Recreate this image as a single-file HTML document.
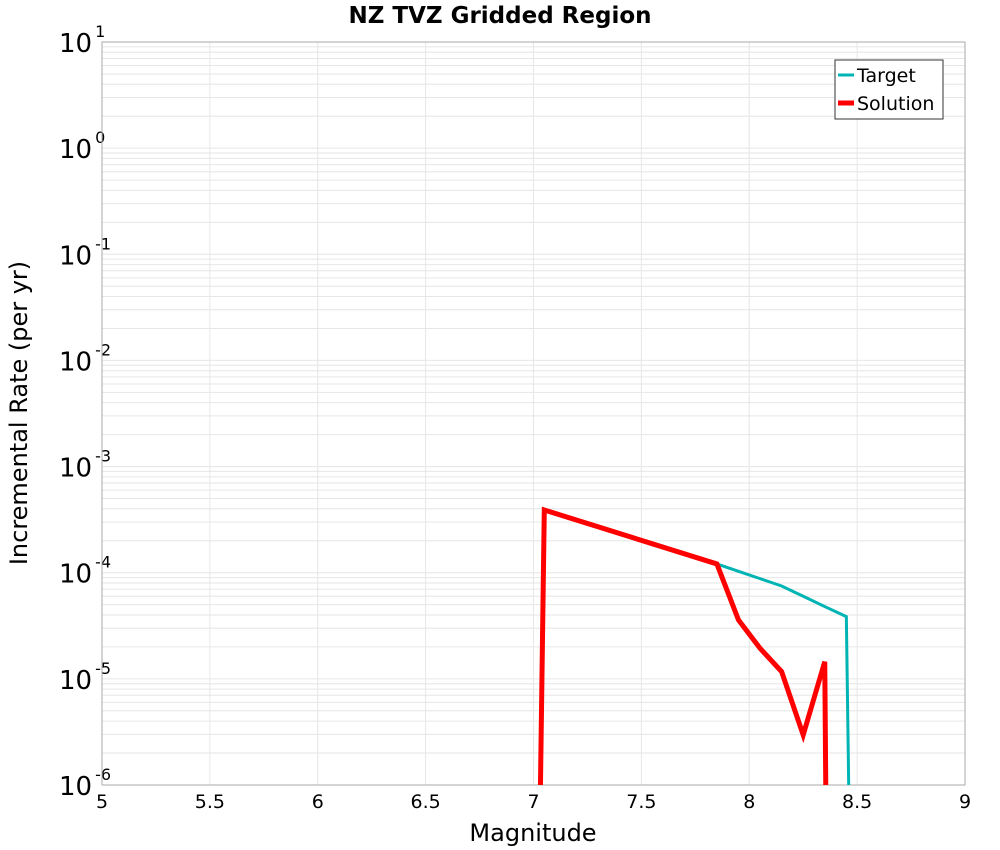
<!DOCTYPE html>
<html><head><meta charset="utf-8"><style>
html,body{margin:0;padding:0;background:#fff;overflow:hidden;font-family:"DejaVu Sans","Liberation Sans",sans-serif}
svg{display:block}
</style></head><body>
<svg id="chart" width="1000" height="850" xmlns="http://www.w3.org/2000/svg" font-family="DejaVu Sans, Liberation Sans, sans-serif">
<text x="500" y="23" text-anchor="middle" font-size="23" font-weight="bold">NZ TVZ Gridded Region</text>
<g id="grid"></g>
<g id="axes"></g>
<g id="series"></g>
<text x="533" y="841" text-anchor="middle" font-size="24">Magnitude</text>
<text transform="translate(27,413) rotate(-90)" text-anchor="middle" font-size="24">Incremental Rate (per yr)</text>
<g>
<rect x="835" y="60" width="108" height="59" fill="#fff" stroke="#333" stroke-width="1"/>
<line x1="838" y1="75" x2="854" y2="75" stroke="#00b4b4" stroke-width="3"/>
<text x="857" y="82" font-size="19">Target</text>
<line x1="838" y1="103" x2="854" y2="103" stroke="#ff0000" stroke-width="5"/>
<text x="857" y="110" font-size="19">Solution</text>
</g>
</svg>
<script>
const xTicks=[5,5.5,6,6.5,7,7.5,8,8.5,9];
const yExps=[-6,-5,-4,-3,-2,-1,0,1];
const targetMags=[6.95,7.05,7.15,7.25,7.35,7.45,7.55,7.65,7.75,7.85,7.95,8.05,8.15,8.25,8.35,8.45,8.55];
const targetRates=[1e-18,3.9e-4,3.37e-4,2.91e-4,2.51e-4,2.17e-4,1.88e-4,1.62e-4,1.40e-4,1.21e-4,1.03e-4,8.8e-5,7.5e-5,6.0e-5,4.8e-5,3.86e-5,1e-19];
const solutionMags=[6.95,7.05,7.85,7.95,8.05,8.15,8.25,8.35,8.45];
const solutionRates=[1e-18,3.9e-4,1.21e-4,3.59e-5,1.94e-5,1.17e-5,2.96e-6,1.45e-5,1e-30];
const L=102,R=965,T=42,B=785;
const X=v=>L+(v-5)/(9-5)*(R-L);
const Y=v=>B-(Math.log10(v)+6)/7*(B-T);
const NS="http://www.w3.org/2000/svg";
function mk(p,tag,at){const e=document.createElementNS(NS,tag);for(const k in at)e.setAttribute(k,at[k]);p.appendChild(e);return e;}
const grid=document.getElementById('grid'),axes=document.getElementById('axes'),series=document.getElementById('series');
for(let e=-6;e<1;e++)for(let m=1;m<10;m++){const y=Y(m*Math.pow(10,e));
const l=mk(grid,'line',{x1:L,x2:R,y1:y,y2:y,stroke:'#e6e6e6','stroke-width':1});

}
xTicks.forEach(t=>{const x=X(t);
const l=mk(grid,'line',{x1:x,x2:x,y1:T,y2:B,stroke:'#e6e6e6','stroke-width':1});


const tx=mk(axes,'text',{x:x,y:808,'text-anchor':'middle','font-size':19});tx.textContent=String(t);

});
yExps.forEach(e=>{const y=Y(Math.pow(10,e));
const tx=mk(axes,'text',{x:59,y:y+10,'text-anchor':'start','font-size':26});


const a=document.createElementNS(NS,'tspan');a.textContent='10';tx.appendChild(a);
const b=document.createElementNS(NS,'tspan');b.setAttribute('dy','-15');b.setAttribute('dx','3');b.setAttribute('font-size','16');b.textContent=String(e);tx.appendChild(b);});
const fr=mk(axes,'rect',{x:L,y:T,width:R-L,height:B-T,fill:'none',stroke:'#aaa','stroke-width':1});


mk(series,'clipPath',{id:'cp'}).appendChild(document.createElementNS(NS,'rect'));
const cr=document.querySelector('#cp rect');cr.setAttribute('x',L);cr.setAttribute('y',T);cr.setAttribute('width',R-L);cr.setAttribute('height',B-T);
function line(ms,rs,col,w,name){const d=ms.map((m,i)=>(i?'L':'M')+X(m).toFixed(2)+','+Y(rs[i]).toFixed(2)).join('');
const p=mk(series,'path',{d:d,fill:'none',stroke:col,'stroke-width':w,'stroke-linejoin':'miter','clip-path':'url(#cp)'});

}
line(targetMags,targetRates,'#00b4b4',3,'target-line');
line(solutionMags,solutionRates,'#ff0000',5,'solution-line');
</script>
</body></html>
